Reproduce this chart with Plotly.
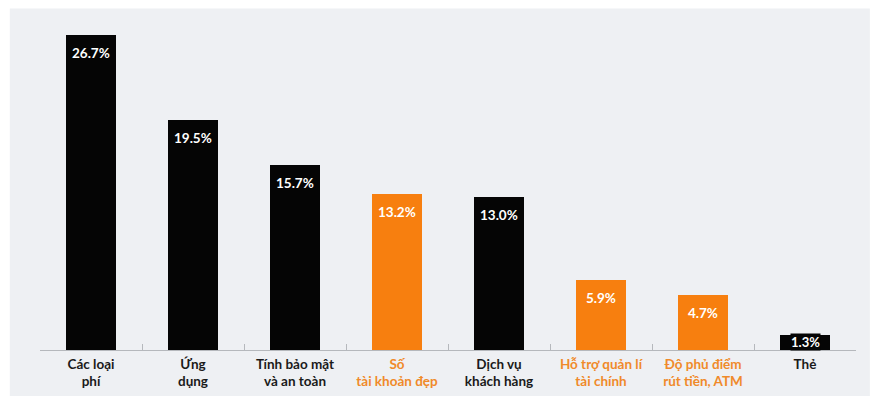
import plotly.graph_objects as go

categories = ["Các loại<br>phí", "Ứng<br>dụng", "Tính bảo mật<br>và an toàn", "Số<br>tài khoản đẹp",
              "Dịch vụ<br>khách hàng", "Hỗ trợ quản lí<br>tài chính", "Độ phủ điểm<br>rút tiền, ATM", "Thẻ"]
values = [26.7, 19.5, 15.7, 13.2, 13.0, 5.9, 4.7, 1.3]
highlight = [False, False, False, True, False, True, True, False]

BLACK = "#050505"
ORANGE = "#f77f0f"
ORANGE_TXT = "#f08a2a"

bar_colors = [ORANGE if h else BLACK for h in highlight]
ticktext = [f'<span style="color:{ORANGE_TXT}">{c}</span>' if h else c for c, h in zip(categories, highlight)]
xs = list(range(len(categories)))

fig = go.Figure()
fig.add_trace(go.Bar(
    x=xs, y=values, width=0.49,
    marker=dict(color=bar_colors, line=dict(width=0)),
    hoverinfo="skip",
))

# value labels inside bars near the top
for x, v in zip(xs, values):
    if v >= 3:
        fig.add_annotation(x=x, y=v, yanchor="top", yshift=-8, showarrow=False,
                           text=f"{v:.1f}%",
                           font=dict(family="Lato", size=13.5, color="white", weight="bold"))
    else:
        fig.add_annotation(x=x, y=v / 2, yanchor="middle", showarrow=False,
                           text=f"{v:.1f}%", bgcolor=BLACK, borderpad=0,
                           font=dict(family="Lato", size=13, color="white", weight="bold"))

fig.update_layout(
    width=885, height=396,
    margin=dict(l=40, r=29, t=20, b=46),
    paper_bgcolor="white", plot_bgcolor="rgba(0,0,0,0)",
    showlegend=False,
    bargap=0,
    shapes=[dict(type="rect", xref="paper", yref="paper", x0=-0.037, x1=1.017, y0=-0.15, y1=1.035,
                 fillcolor="#eef0f3", line=dict(width=0), layer="below")],
    xaxis=dict(range=[-0.5, 7.5], tickmode="array", tickvals=xs, ticktext=ticktext,
               showgrid=False, zeroline=False, showline=False, automargin=False,
               ticks="", tickfont=dict(family="Lato", size=13.5, color="#1a1a1a", weight="bold"),
               ticklabelstandoff=4),
    yaxis=dict(range=[0, 28], visible=False, showgrid=False, zeroline=False, automargin=False),
)
fig.update_layout(xaxis2=dict(overlaying="x", range=[-0.5, 7.5], tickmode="array",
                              tickvals=[i - 0.5 for i in range(len(categories) + 1)],
                              ticktext=[""] * (len(categories) + 1), automargin=False,
                              ticks="inside", ticklen=6, tickcolor="#b5b8bc", tickwidth=1,
                              showline=True, linecolor="#b5b8bc", linewidth=1,
                              showgrid=False, zeroline=False, anchor="y", side="bottom"))
fig.add_trace(go.Scatter(x=[0], y=[0], xaxis="x2", mode="markers", marker=dict(opacity=0),
                         hoverinfo="skip", showlegend=False))

fig.write_html("out.html")
